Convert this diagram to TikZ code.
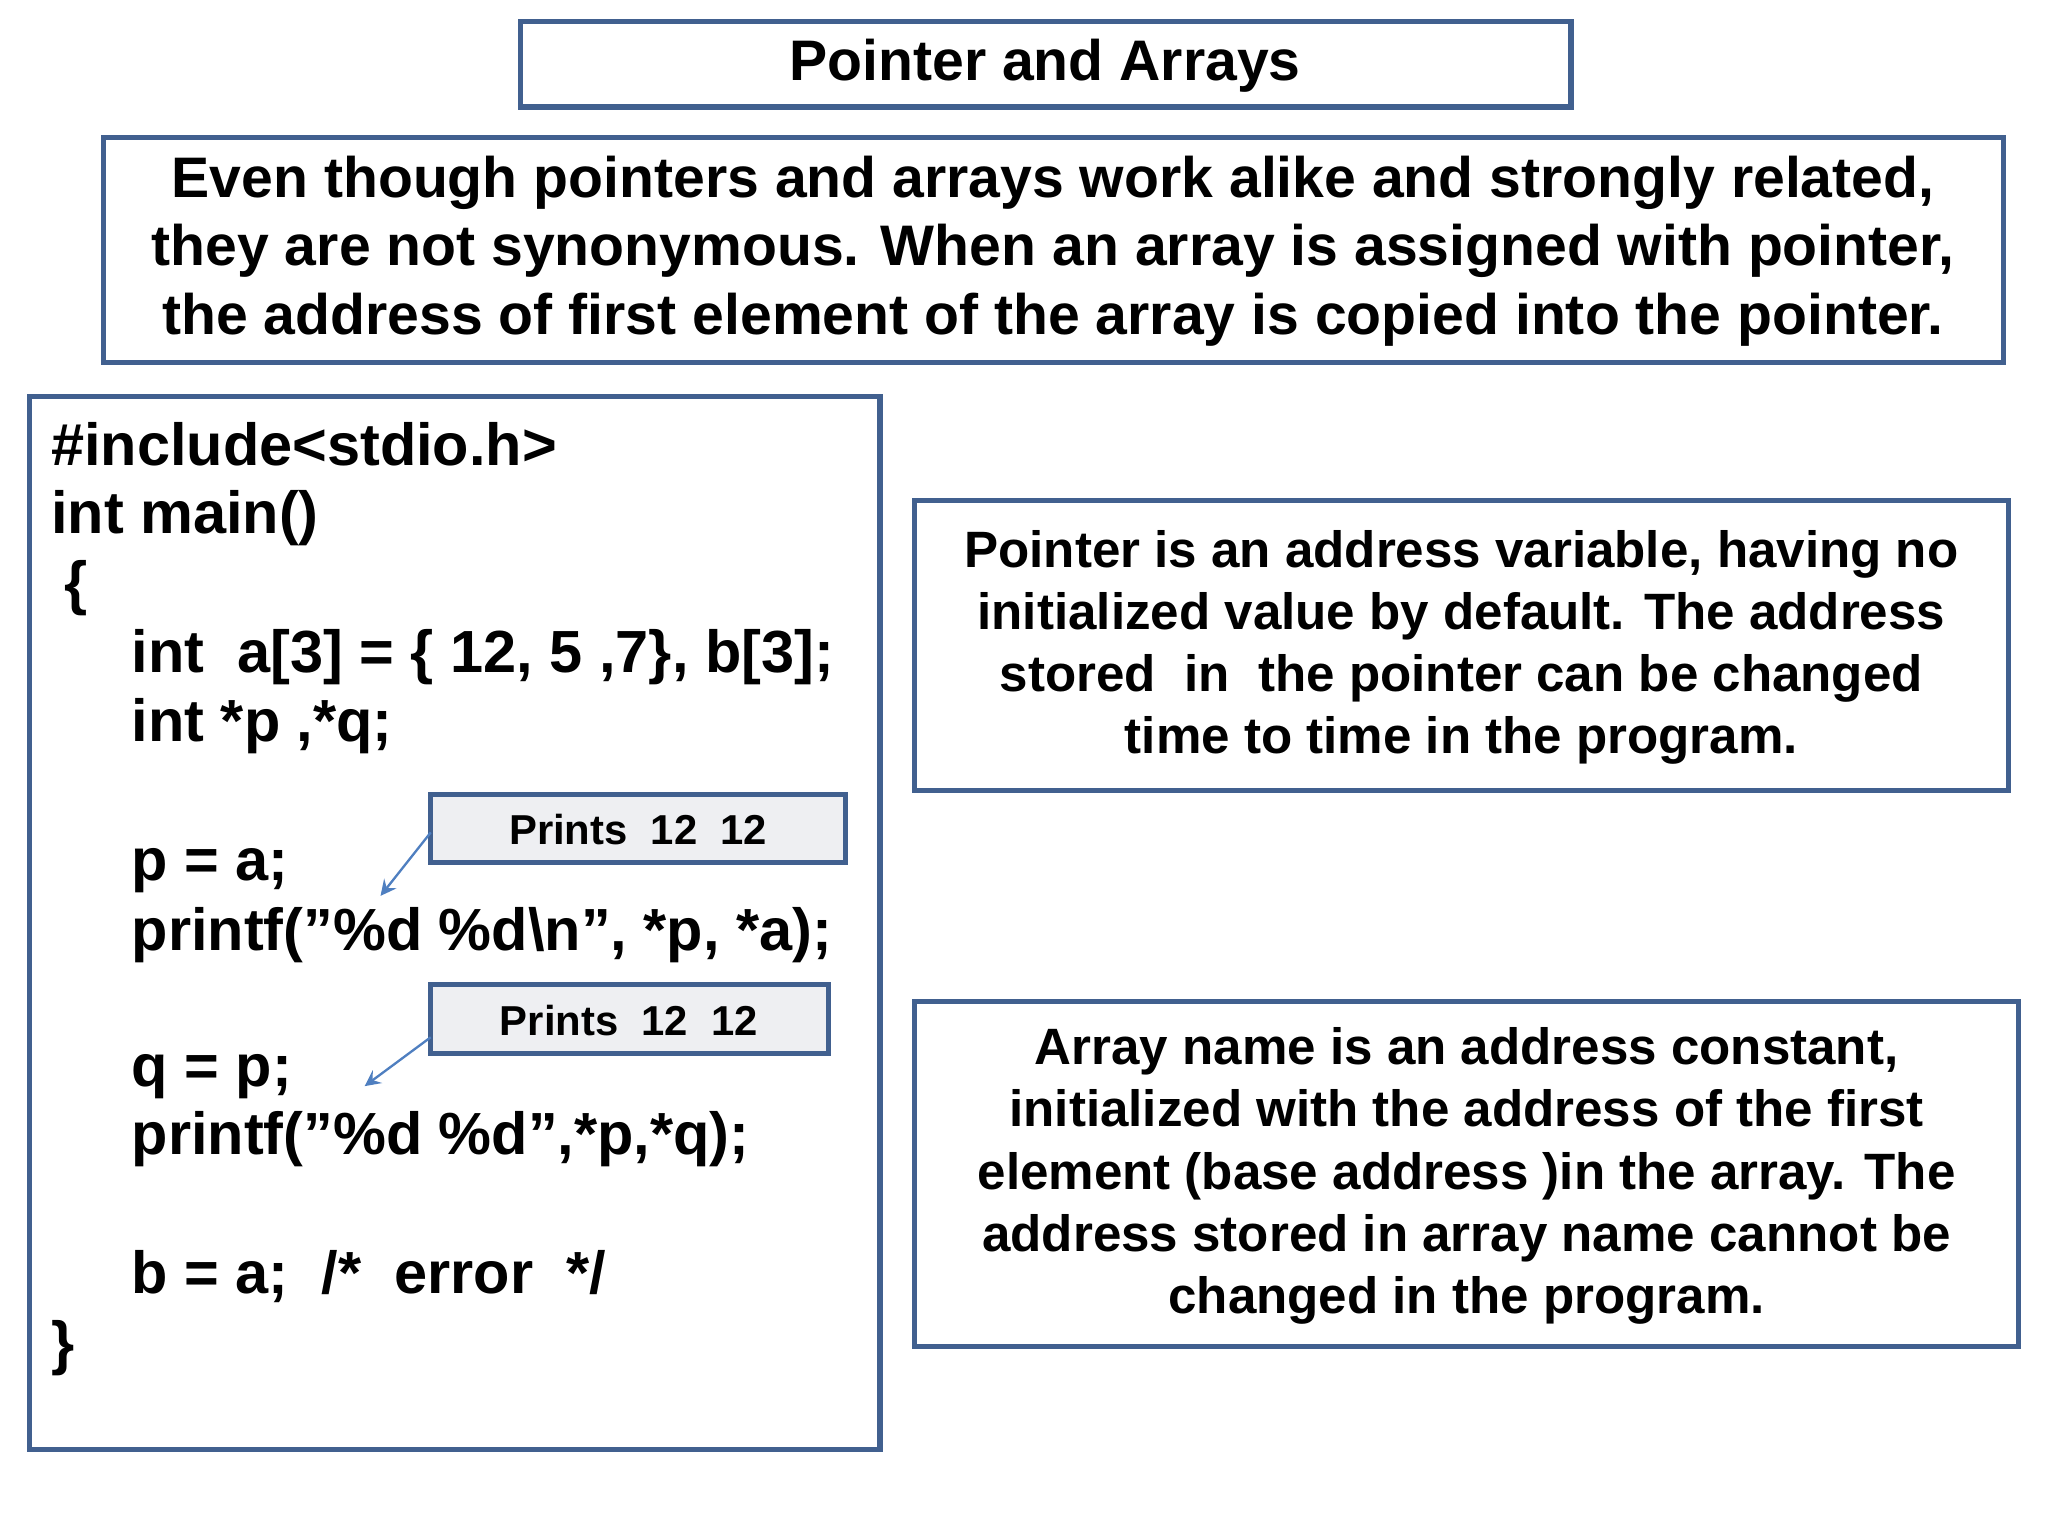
\documentclass[tikz,border=0pt]{standalone}
\usepackage{fontspec}
\setmainfont{Liberation Sans}
\begin{document}
\begin{tikzpicture}[x=0.01cm,y=-0.01cm,
  bx/.style={draw=boxblue,line width=1.1pt},
  big/.style={font=\bfseries\fontsize{12.3}{14.8}\selectfont},
  mid/.style={font=\bfseries\fontsize{11}{13.4}\selectfont,align=center},
  code/.style={font=\bfseries\fontsize{12.8}{14.8}\selectfont,anchor=base west,inner sep=0},
  small/.style={font=\bfseries\fontsize{9}{11}\selectfont},
  arr/.style={-stealth,draw=arrblue,line width=0.5pt}]
\definecolor{boxblue}{HTML}{41608F}
\definecolor{arrblue}{HTML}{4F7FC0}
\definecolor{gbox}{HTML}{EEEFF2}
\useasboundingbox (0,0) rectangle (1550,1162);
\draw[bx] (394,16) rectangle (1189,81);
\node[big] (title) at (791,50) {Pointer and Arrays};
\draw[bx] (78,104) rectangle (1516,274);
\node[big,align=center] (intro) at (797,190) {Even though pointers and arrays work alike and strongly related,\\they are not synonymous. When an array is assigned with pointer,\\the address of first element of the array is copied into the pointer.};
\draw[bx] (22,300) rectangle (666,1097);
\node[code] (c1) at (38,352) {\#include<stdio.h>};
\node[code] (c2) at (38,404) {int main()};
\node[code] (c3) at (48,457) {\{};
\node[code] (c4) at (99,509) {int\ \ a[3] = \{ 12, 5 ,7\}, b[3];};
\node[code] (c5) at (99,561) {int *p ,*q;};
\node[code] (c6) at (99,666) {p = a;};
\node[code] (c7) at (99,719) {printf("\%d \%d\textbackslash n", *p, *a);};
\node[code] (c8) at (99,822) {q = p;};
\node[code] (c9) at (99,874) {printf("\%d \%d",*p,*q);};
\node[code] (c10) at (99,979) {b = a;\ \ /*\ \ error\ \ */};
\node[code] (c11) at (38,1032) {\}};
\draw[bx,fill=gbox] (326,601) rectangle (640,653);
\node[small] (pr1) at (483,628) {Prints\ \ 12\ \ 12};
\draw[bx,fill=gbox] (326,745) rectangle (627,797);
\node[small] (pr2) at (476,772) {Prints\ \ 12\ \ 12};
\coordinate (a1s) at (326,630); \coordinate (a1e) at (288,678);
\coordinate (a2s) at (326,785); \coordinate (a2e) at (276,822);
\draw[arr] (a1s) -- (a1e);
\draw[arr] (a2s) -- (a2e);
\draw[bx] (692,379) rectangle (1520,598);
\node[mid] (r1) at (1106,490) {Pointer is an address variable, having no\\initialized value by default. The address\\stored\ \ in\ \ the pointer can be changed\\time to time in the program.};
\draw[bx] (692,758) rectangle (1528,1019);
\node[mid] (r2) at (1110,890) {Array name is an address constant,\\initialized with the address of the first\\element (base address )in the array. The\\address stored in array name cannot be\\changed in the program.};
\end{tikzpicture}
\end{document}
